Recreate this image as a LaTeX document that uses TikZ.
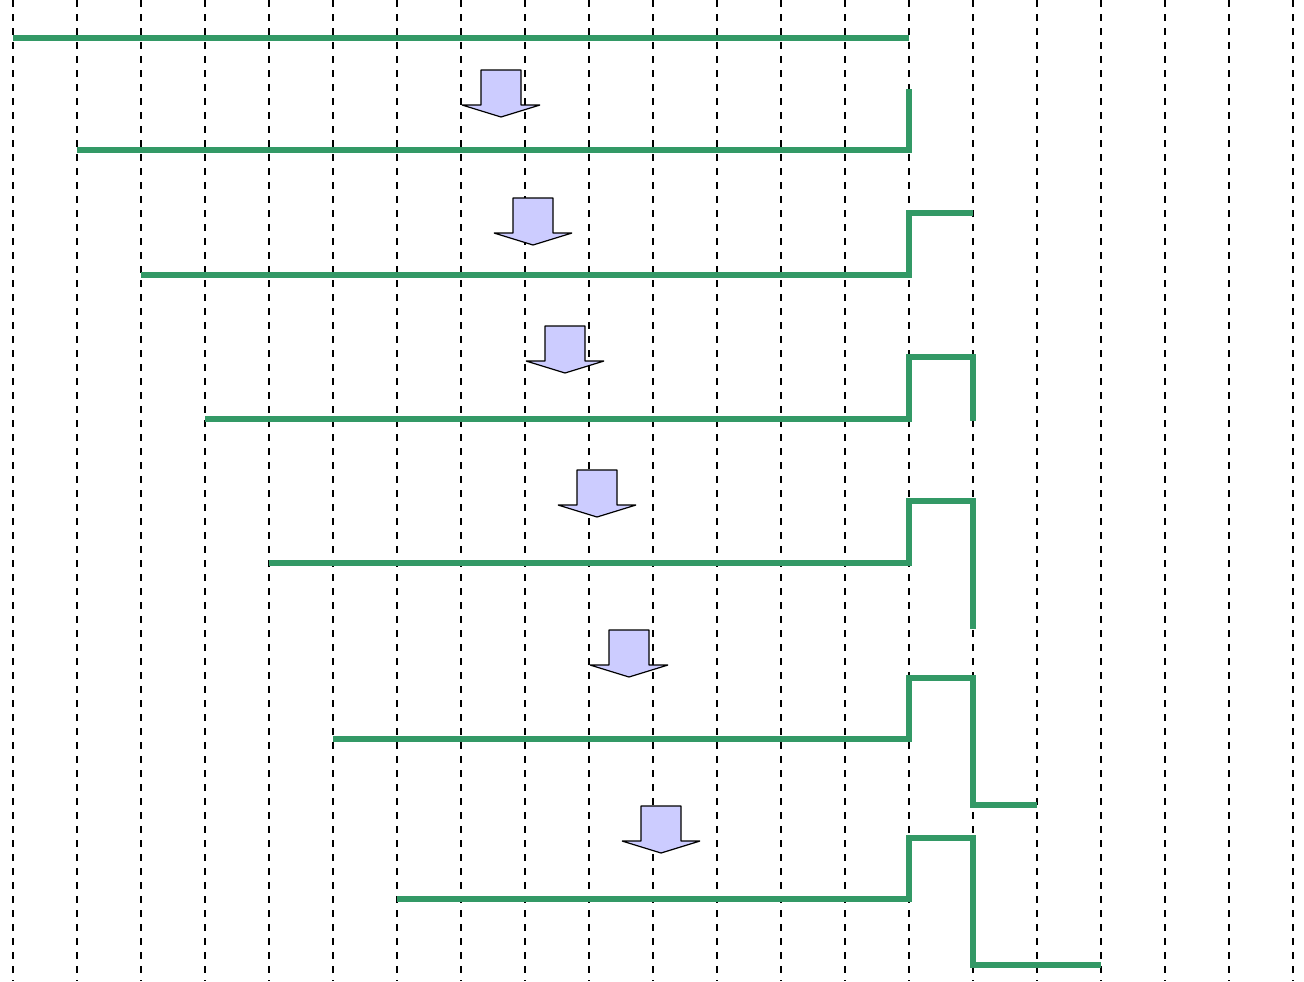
\documentclass[tikz,border=0pt]{standalone}
\usepackage{tikz}
\definecolor{wavegreen}{HTML}{339966}
\definecolor{arrowfill}{HTML}{CCCCFF}
\tikzset{
  grid line/.style={black, line width=0.8pt, dash pattern=on 3.5pt off 3.5pt},
  wave/.style={wavegreen, line width=3.4pt},
  step arrow/.pic={
    \draw[black, line width=0.6pt, fill=arrowfill, line join=bevel]
      (-20,0) -- (20,0) -- (20,35) -- (39,35) -- (0,47) -- (-39,35) -- (-20,35) -- cycle;
  }
}
\begin{document}
\begin{tikzpicture}[x=0.5pt, y=-0.5pt]
\useasboundingbox (0,0) rectangle (1304,981);
% vertical dashed grid
\foreach \i in {0,...,20} {
  \draw[grid line] ({13+64*\i},0) -- ({13+64*\i},981);
}
% waveforms
\draw[wave] (13,38) -- (909,38);
\draw[wave] (77,150) -- (909,150) -- (909,89);
\draw[wave] (141,275) -- (909,275) -- (909,213) -- (973,213);
\draw[wave] (205,419) -- (909,419) -- (909,357) -- (973,357) -- (973,421);
\draw[wave] (269,563) -- (909,563) -- (909,501) -- (973,501) -- (973,629);
\draw[wave] (333,739) -- (909,739) -- (909,678) -- (973,678) -- (973,805) -- (1037,805);
\draw[wave] (397,899) -- (909,899) -- (909,838) -- (973,838) -- (973,965) -- (1101,965);
% arrows
\pic at (501,70) {step arrow};
\pic at (533,198) {step arrow};
\pic at (565,326) {step arrow};
\pic at (597,470) {step arrow};
\pic at (629,630) {step arrow};
\pic at (661,806) {step arrow};
\end{tikzpicture}
\end{document}
